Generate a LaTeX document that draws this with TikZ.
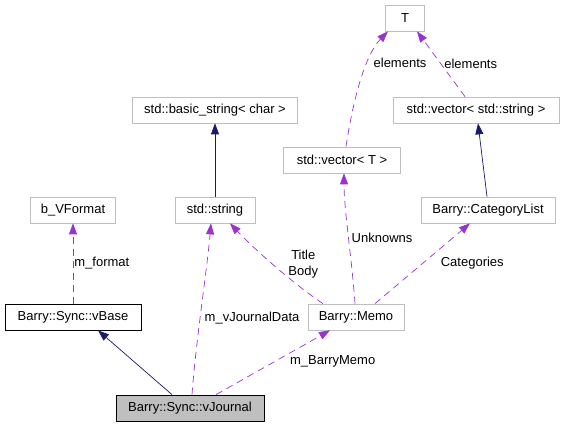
\documentclass[tikz,border=0pt]{standalone}
\usepackage{fontspec}
\setmainfont{Liberation Sans}
\usetikzlibrary{arrows.meta, positioning, calc}

\definecolor{usecol}{HTML}{9A32CD}
\definecolor{inhcol}{HTML}{191970}
\definecolor{boxcol}{HTML}{BFBFBF}

\tikzset{
  cls/.style={draw=boxcol, line width=0.7pt, minimum height=26, inner sep=0pt,
    font=\fontsize{13}{15}\selectfont},
  inherit/.style={inhcol, line width=0.7pt, -{Triangle[length=11pt,width=8pt]}},
  member/.style={usecol, line width=0.7pt, dash pattern=on 7pt off 5pt,
    -{Triangle[length=11pt,width=8pt]}},
  lbl/.style={black, font=\fontsize{13}{16}\selectfont, inner sep=1pt}
}

\begin{document}
\begin{tikzpicture}[x=1pt, y=-1pt]
        \useasboundingbox (0,0) rectangle (564,427);
        % Classes
        \node [cls, minimum width=39] (T) at (405,18) {T};
        \node [cls, minimum width=166] (vecstr) at (476,110) {std::vector< std::string >};
        \node [cls, minimum width=165] (basicstr) at (215,110) {std::basic\_string< char >};
        \node [cls, minimum width=117] (vecT) at (342,160) {std::vector< T >};
        \node [cls, minimum width=85] (vformat) at (73,210) {b\_VFormat};
        \node [cls, minimum width=80] (str) at (215,210) {std::string};
        \node [cls, minimum width=134] (catlist) at (488,210) {Barry::CategoryList};
        \node [cls, draw=black, minimum width=136] (vbase) at (73,317) {Barry::Sync::vBase};
        \node [cls, minimum width=96] (memo) at (356,317) {Barry::Memo};
        \node [cls, draw=black, fill=boxcol, minimum width=148] (vjournal) at (190,408) {Barry::Sync::vJournal};
        % Inheritance
        \draw [inherit] ([xshift=-18]vjournal.north) -- ([xshift=25]vbase.south);
        \draw [inherit] (str.north) -- (basicstr.south);
        \draw [inherit] ([xshift=-1]catlist.north) -- ([xshift=2]vecstr.south);
        % Members
        \draw [member] ([xshift=2]vjournal.north) .. controls (196,340) and (207,270) .. ([xshift=-4]str.south)
            node [lbl, pos=0.45, anchor=west, xshift=3, yshift=-3] {m\_vJournalData};
        \draw [member] ([xshift=26]vjournal.north) -- ([xshift=-26]memo.south)
            node [lbl, pos=0.55, anchor=west, xshift=10, yshift=-2] {m\_BarryMemo};
        \draw [member] (vbase.north) -- (vformat.south)
            node [lbl, midway, anchor=west] {m\_format};
        \draw [member] ([xshift=-33]memo.north) .. controls (295,285) and (255,250) .. ([xshift=15]str.south)
            node [lbl, pos=0.3, align=center, xshift=8, yshift=19] {Title\\Body};
        \draw [member] ([xshift=-1]memo.north) .. controls (352,260) and (344,210) .. ([xshift=2]vecT.south)
            node [lbl, pos=0.5, anchor=west, xshift=2, yshift=-2] {Unknowns};
        \draw [member] ([xshift=19]memo.north) -- ([xshift=-18]catlist.south)
            node [lbl, pos=0.5, anchor=west, xshift=17] {Categories};
        \draw [member] ([xshift=4]vecT.north) .. controls (353,100) and (365,55) .. ([xshift=-17]T.south)
            node [lbl, pos=0.6, anchor=west, xshift=7, yshift=6] {elements};
        \draw [member] ([xshift=-11]vecstr.north) -- ([xshift=12]T.south)
            node [lbl, pos=0.5, anchor=west, xshift=2] {elements};
    \end{tikzpicture}
\end{document}
